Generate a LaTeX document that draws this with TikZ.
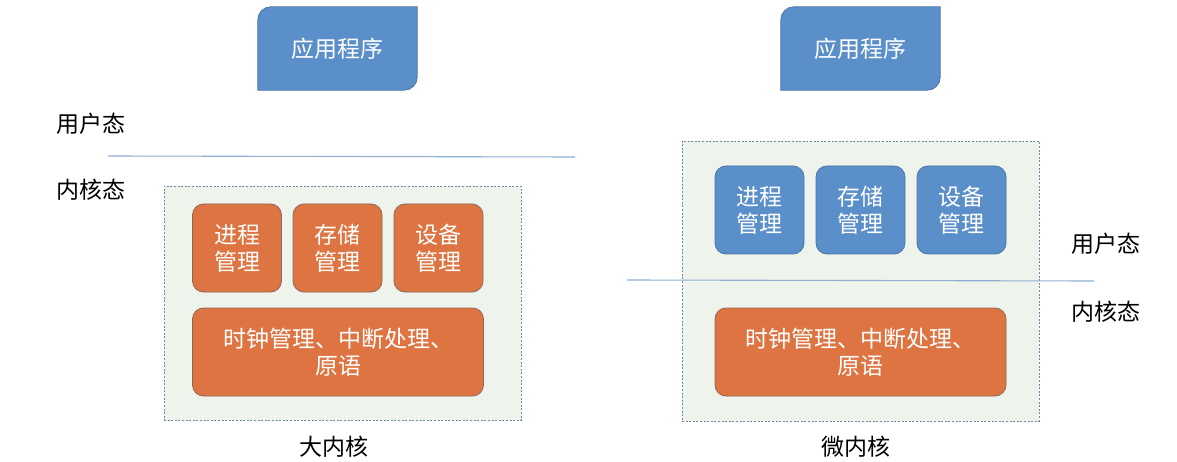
\documentclass[tikz,border=0pt]{standalone}
\usepackage{fontspec}
\newfontfamily\cjk{Noto Sans CJK SC}
\usetikzlibrary{backgrounds}
\definecolor{boxblue}{HTML}{5B8FC9}
\definecolor{boxblueline}{HTML}{4A75A6}
\definecolor{boxorange}{HTML}{DD7441}
\definecolor{boxorangeline}{HTML}{8C6A5A}
\definecolor{panelfill}{HTML}{EEF3EC}
\definecolor{panelline}{HTML}{7088A0}
\definecolor{sepline}{HTML}{8FB0D2}
\tikzset{
  x=1pt, y=-1pt,
  cjkfont/.style={font=\cjk\fontsize{23}{27}\selectfont},
  modbox/.style={cjkfont, text=white, rounded corners=11pt, line width=0.8pt, align=center, inner sep=0pt},
  bluebox/.style={modbox, fill=boxblue, draw=boxblueline},
  orangebox/.style={modbox, fill=boxorange, draw=boxorangeline},
  small/.style={minimum width=89pt, minimum height=88pt},
  wide/.style={minimum width=291pt, minimum height=88pt},
  panel/.style={fill=panelfill, draw=panelline, line width=0.7pt, dash pattern=on 2pt off 1.6pt, inner sep=0pt},
  apptext/.style={cjkfont, text=white, inner sep=0pt, minimum width=159pt, minimum height=83pt},
  appshape/.style={fill=boxblue, draw=boxblueline, line width=0.8pt},
  label/.style={cjkfont, text=black, inner sep=0pt},
  sep/.style={draw=sepline, line width=1.1pt}
}
\begin{document}
\begin{tikzpicture}
\useasboundingbox[fill=white] (0,0) rectangle (1177,462);

% ---------- left: monolithic kernel ----------
\node[apptext] (appL) at (337.5,48.5) {};
\draw[appshape] (appL.south west) [rounded corners=13pt] -- (appL.north west) [sharp corners] -- (appL.north east) [rounded corners=13pt] -- (appL.south east) [sharp corners] -- (appL.south west) -- cycle;
\node[apptext] at (appL.center) {应用程序};

\node[label] (userL) at (91,124) {用户态};
\node[label] (kernL) at (91,190) {内核态};
\coordinate (sepL1) at (108,156);
\coordinate (sepL2) at (575,157);
\draw[sep] (sepL1) -- (sepL2);

\node[panel, minimum width=357pt, minimum height=234pt] (panelL) at (342.5,303.5) {};
\node[orangebox, small] (procL) at (237,248) {进程\\管理};
\node[orangebox, small] (memL) at (337.5,248) {存储\\管理};
\node[orangebox, small] (devL) at (438.5,248) {设备\\管理};
\node[orangebox, wide] (coreL) at (338,352) {时钟管理、中断处理、\\原语};
\node[label] (capL) at (334,447) {大内核};

% ---------- right: microkernel ----------
\node[apptext] (appR) at (860.5,48.5) {};
\draw[appshape] (appR.south west) [rounded corners=13pt] -- (appR.north west) [sharp corners] -- (appR.north east) [rounded corners=13pt] -- (appR.south east) [sharp corners] -- (appR.south west) -- cycle;
\node[apptext] at (appR.center) {应用程序};

\node[panel, minimum width=357pt, minimum height=280pt] (panelR) at (860.5,281) {};
\node[bluebox, small] (procR) at (759.5,210) {进程\\管理};
\node[bluebox, small] (memR) at (860.5,210) {存储\\管理};
\node[bluebox, small] (devR) at (961.5,210) {设备\\管理};
\node[orangebox, wide] (coreR) at (860.5,352) {时钟管理、中断处理、\\原语};

\coordinate (sepR1) at (627,280);
\coordinate (sepR2) at (1094,281);
\draw[sep] (sepR1) -- (sepR2);
\node[label] (userR) at (1106,244) {用户态};
\node[label] (kernR) at (1106,312) {内核态};
\node[label] (capR) at (856,447) {微内核};
\end{tikzpicture}
\end{document}
